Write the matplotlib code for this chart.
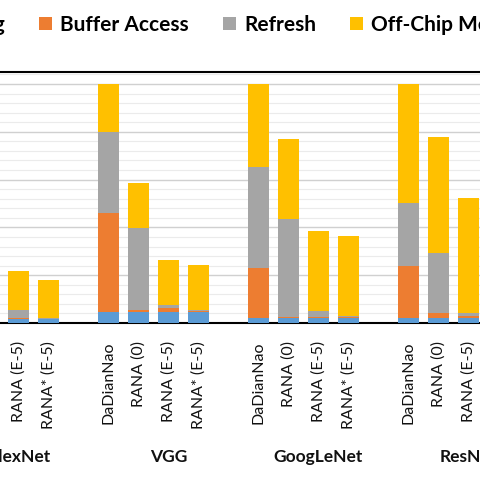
import numpy as np
import matplotlib
matplotlib.use("Agg")
import matplotlib.pyplot as plt
from matplotlib.patches import Patch
from matplotlib.ticker import MultipleLocator
from matplotlib.transforms import blended_transform_factory

plt.rcParams['font.family'] = ['Lato', 'DejaVu Sans']

# networks and configurations (normalised energy)
networks = ['AlexNet', 'VGG', 'GoogLeNet', 'ResNet']
configs = ['DaDianNao', 'RANA (0)', 'RANA (E-5)', 'RANA* (E-5)']
series = ['Computing', 'Buffer Access', 'Refresh', 'Off-Chip Memory Access']
colors = ['#5B9BD5', '#ED7D31', '#A5A5A5', '#FFC000']

# rows: network x config, one list per energy component
computing = [0.020, 0.020, 0.015, 0.015,
             0.047, 0.045, 0.045, 0.045,
             0.022, 0.020, 0.020, 0.020,
             0.022, 0.022, 0.022, 0.022]
buffer_access = [0.250, 0.010, 0.005, 0.003,
                 0.414, 0.009, 0.016, 0.006,
                 0.208, 0.006, 0.006, 0.006,
                 0.218, 0.018, 0.008, 0.008]
refresh = [0.350, 0.450, 0.036, 0.004,
           0.339, 0.345, 0.014, 0.003,
           0.424, 0.409, 0.023, 0.003,
           0.264, 0.253, 0.010, 0.004]
off_chip = [0.380, 0.350, 0.161, 0.157,
            0.200, 0.187, 0.187, 0.190,
            0.346, 0.336, 0.337, 0.336,
            0.496, 0.486, 0.485, 0.470]

fig = plt.figure(figsize=(4.8, 4.8), dpi=100)
ax = fig.add_axes([0, 0.327, 1, 0.523])

# slot positions: four bars per network plus one empty slot between groups
slots = []
for g in range(len(networks)):
    for c in range(len(configs)):
        slots.append(g * (len(configs) + 1) + c)
slots = np.array(slots)

bottom = np.zeros(len(slots))
for vals, col in zip([computing, buffer_access, refresh, off_chip], colors):
    ax.bar(slots, vals, width=0.7, bottom=bottom, color=col, zorder=3)
    bottom += np.array(vals)

ax.set_xticks(slots)
ax.set_xticklabels(configs * len(networks), rotation=90, fontsize=11.5,
                   color='#111111')
ax.tick_params(axis='x', length=0, pad=13)

# only part of the full chart is shown: AlexNet and ResNet are cut
ax.set_xlim(1.383, 17.383)
ax.set_ylim(0, 1.05)
ax.yaxis.set_major_locator(MultipleLocator(0.2))
ax.yaxis.set_minor_locator(MultipleLocator(0.04))
ax.grid(axis='y', which='major', color='#D0D0D0', lw=1.0, zorder=0)
ax.grid(axis='y', which='minor', color='#EBEBEB', lw=0.8, zorder=0)
ax.tick_params(axis='y', which='both', left=False, labelleft=False)

for side in ['left', 'right']:
    ax.spines[side].set_visible(False)
ax.spines['bottom'].set_linewidth(1.5)
ax.spines['top'].set_linewidth(1.5)

# network names under each group
trans = blended_transform_factory(ax.transData, fig.transFigure)
for g, name in enumerate(networks):
    center = g * (len(configs) + 1) + 2
    ax.text(center, 1 - 457 / 480, name, transform=trans, ha='center',
            va='center', fontsize=12.5, fontweight='bold', color='#111111',
            clip_on=False)

handles = [Patch(facecolor=c, label=s) for c, s in zip(colors, series)]
fig.legend(handles=handles, loc='center', bbox_to_anchor=(244 / 480, 1 - 25 / 480),
           ncol=4, frameon=False, handlelength=0.63, handleheight=0.63,
           handletextpad=0.4, columnspacing=1.62,
           prop={'size': 15, 'weight': 'bold'})

fig.savefig('out.png', dpi=100)
